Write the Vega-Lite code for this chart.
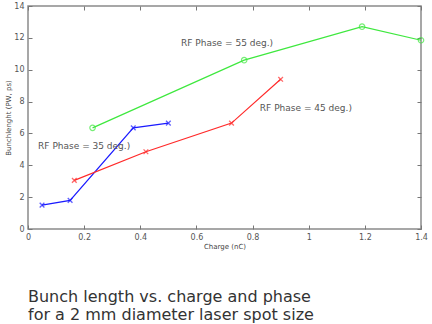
{
  "$schema": "https://vega.github.io/schema/vega-lite/v6.json",
  "autosize": "none",
  "width": 393,
  "height": 223,
  "padding": {"left": 28, "top": 6, "right": 11, "bottom": 95},
  "background": "white",
  "config": {
    "view": {"stroke": "#8a8a8a", "strokeWidth": 1.5},
    "font": "DejaVu Sans",
    "axis": {"grid": false, "domain": false, "tickColor": "#777", "tickSize": -4, "labelFlush": false, "labelColor": "#555", "labelFontSize": 8, "labelFont": "DejaVu Sans", "titleFont": "DejaVu Sans", "titleFontWeight": "normal", "titleColor": "#444", "titleFontSize": 7}
  },
  "title": {
    "text": ["Bunch length vs. charge and phase", "for a 2 mm diameter laser spot size"],
    "orient": "bottom",
    "anchor": "start",
    "frame": "group",
    "offset": 40,
    "fontSize": 16,
    "fontWeight": "normal",
    "font": "DejaVu Sans",
    "color": "#333",
    "lineHeight": 18
  },
  "datasets": {
    "series": [
      {"phase": "35", "charge": 0.05, "length": 1.5},
      {"phase": "35", "charge": 0.15, "length": 1.8},
      {"phase": "35", "charge": 0.375, "length": 6.35},
      {"phase": "35", "charge": 0.5, "length": 6.65},
      {"phase": "45", "charge": 0.165, "length": 3.05},
      {"phase": "45", "charge": 0.42, "length": 4.85},
      {"phase": "45", "charge": 0.725, "length": 6.65},
      {"phase": "45", "charge": 0.9, "length": 9.4},
      {"phase": "55", "charge": 0.23, "length": 6.35},
      {"phase": "55", "charge": 0.77, "length": 10.6},
      {"phase": "55", "charge": 1.19, "length": 12.7},
      {"phase": "55", "charge": 1.4, "length": 11.85}
    ],
    "labels": [
      {"label": "RF Phase = 55 deg.)", "charge": 0.545, "length": 11.67},
      {"label": "RF Phase = 45 deg.)", "charge": 0.826, "length": 7.59},
      {"label": "RF Phase = 35 deg.)", "charge": 0.036, "length": 5.19}
    ]
  },
  "layer": [
    {
      "data": {"name": "series"},
      "mark": {"type": "line", "strokeWidth": 1.2},
      "encoding": {
        "x": {"field": "charge", "type": "quantitative", "scale": {"domain": [0, 1.4], "nice": false}, "axis": {"orient": "bottom", "values": [0, 0.2, 0.4, 0.6, 0.8, 1, 1.2, 1.4], "format": "~g", "title": "Charge (nC)", "labelPadding": 8, "titlePadding": 1}},
        "y": {"field": "length", "type": "quantitative", "scale": {"domain": [0, 14], "nice": false}, "axis": {"orient": "left", "values": [0, 2, 4, 6, 8, 10, 12, 14], "format": "~g", "title": "Bunchlenght (PW, ps)", "labelPadding": 8, "titlePadding": 2}},
        "color": {"field": "phase", "type": "nominal", "scale": {"domain": ["35", "45", "55"], "range": ["#1a1aff", "#ff2a2a", "#3ee83e"]}, "legend": null}
      }
    },
    {
      "data": {"name": "series"},
      "transform": [{"filter": "datum.phase != '55'"}],
      "mark": {"type": "point", "shape": "M-1,-1L1,1M-1,1L1,-1", "filled": false, "size": 22, "strokeWidth": 1.3},
      "encoding": {
        "x": {"field": "charge", "type": "quantitative", "axis": null},
        "y": {"field": "length", "type": "quantitative", "axis": null},
        "color": {"field": "phase", "type": "nominal", "legend": null}
      }
    },
    {
      "data": {"name": "series"},
      "transform": [{"filter": "datum.phase == '55'"}],
      "mark": {"type": "point", "shape": "circle", "filled": false, "size": 30, "strokeWidth": 1.2},
      "encoding": {
        "x": {"field": "charge", "type": "quantitative", "axis": null},
        "y": {"field": "length", "type": "quantitative", "axis": null},
        "color": {"field": "phase", "type": "nominal", "legend": null}
      }
    },
    {
      "data": {"name": "labels"},
      "mark": {"type": "text", "align": "left", "baseline": "middle", "fontSize": 9, "color": "#555"},
      "encoding": {
        "x": {"field": "charge", "type": "quantitative", "axis": {"orient": "top", "values": [0, 0.2, 0.4, 0.6, 0.8, 1, 1.2, 1.4], "labels": false, "title": null}},
        "y": {"field": "length", "type": "quantitative", "axis": {"orient": "right", "values": [0, 2, 4, 6, 8, 10, 12, 14], "labels": false, "title": null}},
        "text": {"field": "label"}
      }
    }
  ]
}
